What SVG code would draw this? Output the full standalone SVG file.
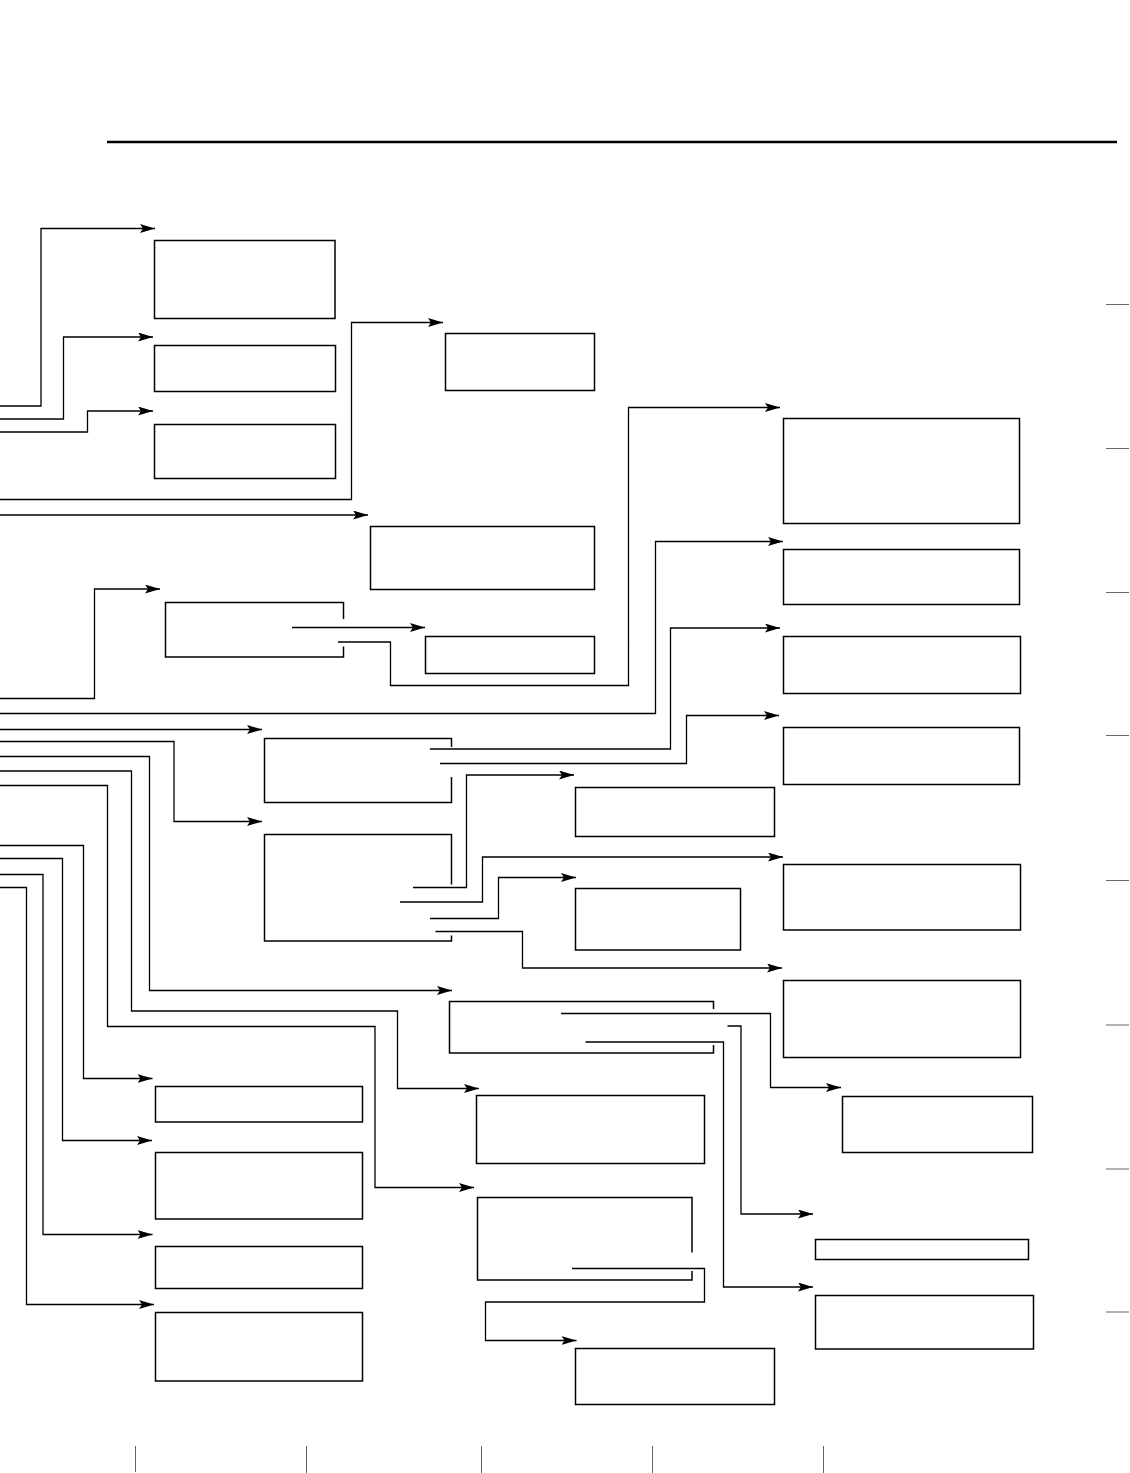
<svg xmlns="http://www.w3.org/2000/svg" width="1130" height="1473" viewBox="0 0 1130 1473">
<style>
.n{fill:none;stroke:#000;stroke-width:1.5}
.c{fill:none;stroke:#000;stroke-width:1.3}
.a{marker-end:url(#ah)}
.t{stroke:#666;stroke-width:1}
</style>
<defs>
<marker id="ah" markerUnits="userSpaceOnUse" markerWidth="15" markerHeight="9" refX="15" refY="4.5" orient="auto">
<path d="M0,0 L15,4.5 L0,9 L3,4.5 z" fill="#000"/>
</marker>
</defs>
<rect width="1130" height="1473" fill="#fff"/>
<g id="decor">
<line x1="107" y1="142" x2="1117" y2="142" stroke="#000" stroke-width="2.5"/>
<g class="t">
<line x1="1106" y1="304.5" x2="1129" y2="304.5"/>
<line x1="1106" y1="448.5" x2="1129" y2="448.5"/>
<line x1="1106" y1="592.5" x2="1129" y2="592.5"/>
<line x1="1106" y1="735.5" x2="1129" y2="735.5"/>
<line x1="1106" y1="880.5" x2="1129" y2="880.5"/>
<line x1="1106" y1="1025" x2="1129" y2="1025"/>
<line x1="1106" y1="1169" x2="1129" y2="1169"/>
<line x1="1106" y1="1312" x2="1129" y2="1312"/>
<line x1="135.5" y1="1446" x2="135.5" y2="1472"/>
<line x1="306.5" y1="1446" x2="306.5" y2="1473"/>
<line x1="481.5" y1="1446" x2="481.5" y2="1473"/>
<line x1="652.5" y1="1446" x2="652.5" y2="1473"/>
<line x1="823.5" y1="1446" x2="823.5" y2="1473"/>
</g>
</g>
<g id="n1"><rect class="n" x="154.5" y="240.5" width="180.5" height="78"/></g>
<g id="n2"><rect class="n" x="154.5" y="345.5" width="181" height="46"/></g>
<g id="n3"><rect class="n" x="154.5" y="424.5" width="181" height="54"/></g>
<g id="n4"><rect class="n" x="445.5" y="333.5" width="149" height="57"/></g>
<g id="n5"><rect class="n" x="370.5" y="526.5" width="224" height="63"/></g>
<g id="n6"><path class="n" d="M343.5,619 V602.5 H165.5 V657 H343.5 V646.5"/></g>
<g id="n7"><rect class="n" x="425.5" y="636.5" width="169" height="37"/></g>
<g id="n8"><rect class="n" x="783.5" y="418.5" width="236" height="105"/></g>
<g id="n9"><rect class="n" x="783.5" y="549.5" width="236" height="55"/></g>
<g id="n10"><rect class="n" x="783.5" y="636.5" width="237" height="57"/></g>
<g id="n11"><rect class="n" x="783.5" y="727.5" width="236" height="57"/></g>
<g id="n12"><path class="n" d="M451.5,747 V738.5 H264.5 V802.5 H451.5 V777"/></g>
<g id="n13"><path class="n" d="M451.5,884.5 V834.5 H264.5 V941 H451.5 V935.5"/></g>
<g id="n14"><rect class="n" x="575.5" y="787.5" width="199" height="49"/></g>
<g id="n15"><rect class="n" x="575.5" y="888.5" width="165" height="61.5"/></g>
<g id="n16"><rect class="n" x="783.5" y="864.5" width="237" height="65.5"/></g>
<g id="n17"><rect class="n" x="783.5" y="980.5" width="237" height="77"/></g>
<g id="n18"><path class="n" d="M713.5,1009 V1001.5 H449.5 V1053 H713.5 V1045"/></g>
<g id="n19"><rect class="n" x="842.5" y="1096.5" width="190" height="56"/></g>
<g id="n20"><rect class="n" x="815.5" y="1239.5" width="213" height="20"/></g>
<g id="n21"><rect class="n" x="815.5" y="1295.5" width="218" height="53.5"/></g>
<g id="n22"><rect class="n" x="476.5" y="1095.5" width="228" height="68"/></g>
<g id="n23"><path class="n" d="M692,1252.5 V1197.5 H477.5 V1280 H692 V1271"/></g>
<g id="n24"><rect class="n" x="575.5" y="1348.5" width="199" height="56"/></g>
<g id="n25"><rect class="n" x="155.5" y="1086.5" width="207" height="35.5"/></g>
<g id="n26"><rect class="n" x="155.5" y="1152.5" width="207" height="66.5"/></g>
<g id="n27"><rect class="n" x="155.5" y="1246.5" width="207" height="42"/></g>
<g id="n28"><rect class="n" x="155.5" y="1312.5" width="207" height="68.5"/></g>
<g id="connectors" class="c">
<polyline class="a" points="0,406 41,406 41,228.5 155,228.5"/>
<polyline class="a" points="0,419 63.5,419 63.5,337 153,337"/>
<polyline class="a" points="0,432 87.5,432 87.5,411 153,411"/>
<polyline class="a" points="0,499.5 351.5,499.5 351.5,322.5 443,322.5"/>
<polyline class="a" points="0,515 368,515"/>
<polyline class="a" points="0,698.5 94.5,698.5 94.5,589 160,589"/>
<polyline class="a" points="292,627.5 425,627.5"/>
<polyline class="a" points="338,642 390.5,642 390.5,685.5 628.5,685.5 628.5,407.5 780,407.5"/>
<polyline class="a" points="0,713.5 655.5,713.5 655.5,541.5 783,541.5"/>
<polyline class="a" points="0,729.5 262,729.5"/>
<polyline class="a" points="430,749 670.5,749 670.5,628 780,628"/>
<polyline class="a" points="440,763.5 686.5,763.5 686.5,715.5 779,715.5"/>
<polyline class="a" points="0,741.5 174,741.5 174,821.5 262,821.5"/>
<polyline class="a" points="413,887.5 466.5,887.5 466.5,775 574,775"/>
<polyline class="a" points="400,902 482.5,902 482.5,857 783,857"/>
<polyline class="a" points="430,918.5 498.5,918.5 498.5,877.5 576,877.5"/>
<polyline class="a" points="435.5,931.5 522.5,931.5 522.5,968 782,968"/>
<polyline class="a" points="0,756.5 149.5,756.5 149.5,990.5 452,990.5"/>
<polyline class="a" points="0,771 131.5,771 131.5,1011 397.5,1011 397.5,1088.5 479,1088.5"/>
<polyline class="a" points="0,785.5 107.5,785.5 107.5,1026.5 375,1026.5 375,1187.5 474,1187.5"/>
<polyline class="a" points="0,845.5 83.5,845.5 83.5,1078.5 152.5,1078.5"/>
<polyline class="a" points="0,858.5 62.5,858.5 62.5,1140.5 152,1140.5"/>
<polyline class="a" points="0,874.5 43,874.5 43,1234.5 152.5,1234.5"/>
<polyline class="a" points="0,887.5 26.5,887.5 26.5,1304.5 154,1304.5"/>
<polyline class="a" points="561,1013.5 770.5,1013.5 770.5,1087.5 841,1087.5"/>
<polyline class="a" points="727.5,1026 741,1026 741,1214 813,1214"/>
<polyline class="a" points="585.5,1042 723.5,1042 723.5,1287 813,1287"/>
<polyline class="a" points="572,1268.5 704.5,1268.5 704.5,1302 485.5,1302 485.5,1340.5 576.5,1340.5"/>
</g>
</svg>
